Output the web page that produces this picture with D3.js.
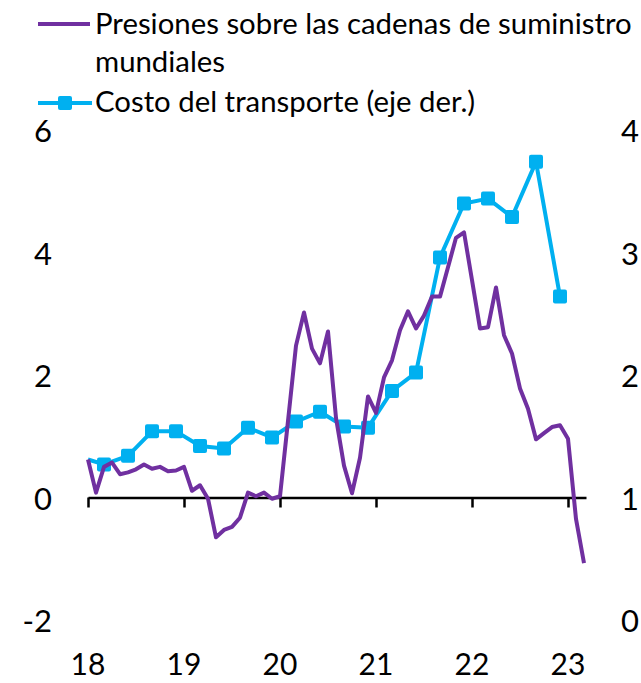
<!DOCTYPE html>
<html>
<head>
<meta charset="utf-8">
<script src="https://cdn.jsdelivr.net/npm/d3@7"></script>
<style>
  body { margin: 0; background: #fff; }
  text { font-family: Lato, "Open Sans", sans-serif; fill: #000; }
</style>
</head>
<body>
<svg id="chart" width="641" height="683"></svg>
<script>
// monthly index, Jan 2018 = 0
var presiones = [
  0.62, 0.08, 0.50, 0.57, 0.38, 0.41, 0.46, 0.54, 0.47, 0.50, 0.43, 0.44,
  0.50, 0.11, 0.20, -0.02, -0.65, -0.53, -0.48, -0.33, 0.08, 0.02, 0.08, -0.02,
  0.02, 1.25, 2.48, 3.02, 2.43, 2.19, 2.71, 1.30, 0.52, 0.07, 0.65, 1.65,
  1.38, 1.96, 2.24, 2.73, 3.04, 2.76, 2.97, 3.28, 3.28, 3.76, 4.24, 4.33,
  3.55, 2.76, 2.78, 3.43, 2.65, 2.35, 1.78, 1.45, 0.95, 1.05, 1.15, 1.18,
  0.96, -0.35, -1.07
];
var transporteMes = [0, 2, 5, 8, 11, 14, 17, 20, 23, 26, 29, 32, 35, 38, 41, 44, 47, 50, 53, 56, 59];
var transporte = [1.31, 1.27, 1.34, 1.54, 1.54, 1.42, 1.40, 1.57, 1.49, 1.62, 1.70,
  1.58, 1.57, 1.87, 2.02, 2.96, 3.40, 3.44, 3.29, 3.74, 2.64];
var yearLabels = ["18", "19", "20", "21", "22", "23"];
var leftTicks = [-2, 0, 2, 4, 6];
var rightTicks = [0, 1, 2, 3, 4];

var purple = "#7030A0", blue = "#00B0F0";

var svg = d3.select("#chart");

var x = d3.scaleLinear().domain([0, 62.25]).range([88, 586]);
var yL = d3.scaleLinear().domain([-2, 6]).range([620, 130]);
var yR = d3.scaleLinear().domain([0, 4]).range([620, 130]);

// left / right labels
svg.append("g").selectAll("text")
  .data(leftTicks).join("text")
  .attr("x", 52).attr("y", d => yL(d))
  .attr("text-anchor", "end").attr("dominant-baseline", "central")
  .style("font-size", "31px")
  .text(d => d);

svg.append("g").selectAll("text")
  .data(rightTicks).join("text")
  .attr("x", 621).attr("y", d => yR(d))
  .attr("dominant-baseline", "central")
  .style("font-size", "31px")
  .text(d => d);

// x axis on zero line
var xAxis = d3.axisBottom(x)
  .tickValues(yearLabels.map((d, i) => i * 12))
  .tickFormat("")
  .tickSize(10)
  .tickSizeOuter(0);

var ax = svg.append("g")
  .attr("transform", "translate(0," + yL(0) + ")")
  .call(xAxis);
ax.select(".domain").attr("stroke", "#000").attr("stroke-width", 2.5);
ax.selectAll(".tick line").attr("stroke", "#000").attr("stroke-width", 2.5);

svg.append("g").selectAll("text")
  .data(yearLabels).join("text")
  .attr("x", (d, i) => x(i * 12)).attr("y", 675)
  .attr("text-anchor", "middle")
  .style("font-size", "30px")
  .text(d => d);

// transport series (right axis)
var lineR = d3.line()
  .x((d, i) => x(transporteMes[i]))
  .y(d => yR(d));

svg.append("path")
  .datum(transporte)
  .attr("fill", "none")
  .attr("stroke", blue)
  .attr("stroke-width", 4)
  .attr("stroke-linejoin", "round")
  .attr("d", lineR);

svg.append("g").selectAll("rect")
  .data(transporte.slice(1)).join("rect")
  .attr("x", (d, i) => x(transporteMes[i + 1]) - 7)
  .attr("y", d => yR(d) - 7)
  .attr("width", 14).attr("height", 14)
  .attr("rx", 2)
  .attr("fill", blue);

// supply chain pressure (left axis)
var lineL = d3.line()
  .x((d, i) => x(i))
  .y(d => yL(d));

svg.append("path")
  .datum(presiones)
  .attr("fill", "none")
  .attr("stroke", purple)
  .attr("stroke-width", 4)
  .attr("stroke-linejoin", "round")
  .attr("d", lineL);

// legend
var leg = svg.append("g");
leg.append("line")
  .attr("x1", 38).attr("x2", 90).attr("y1", 24).attr("y2", 24)
  .attr("stroke", purple).attr("stroke-width", 4);
leg.append("line")
  .attr("x1", 38).attr("x2", 92).attr("y1", 103).attr("y2", 103)
  .attr("stroke", blue).attr("stroke-width", 4);
leg.append("rect")
  .attr("x", 58).attr("y", 96).attr("width", 14).attr("height", 14)
  .attr("rx", 2).attr("fill", blue);

function legText(txt, y, w) {
  var t = leg.append("text")
    .attr("x", 95).attr("y", y)
    .style("font-size", "30px")
    .text(txt);
  if (w) {
    var len = t.node().getComputedTextLength();
    t.style("font-size", (30 * w / len) + "px");
  }
  return t;
}
var t1 = legText("Presiones sobre las cadenas de suministro", 34, 537);
var fs = t1.style("font-size");
legText("mundiales", 72).style("font-size", fs);
legText("Costo del transporte (eje der.)", 112).style("font-size", fs);
</script>
</body>
</html>
